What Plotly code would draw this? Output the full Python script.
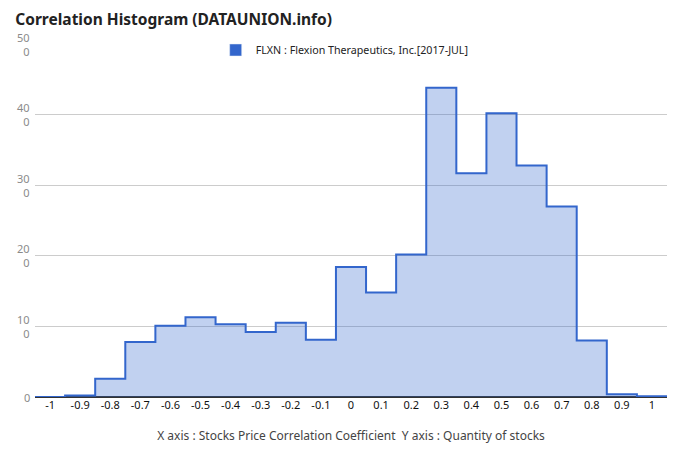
import plotly.graph_objects as go

# bin centres and stock counts
bin_centers = [round(-1 + 0.1 * i, 1) for i in range(21)]
counts = [0, 2, 26, 78, 101, 113, 103, 92, 105, 81,
          184, 148, 202, 438, 317, 402, 328, 270, 80, 4, 1]
bin_width = 0.1

x_tickvals = bin_centers
x_ticktext = ["-1", "-0.9", "-0.8", "-0.7", "-0.6", "-0.5", "-0.4", "-0.3", "-0.2", "-0.1",
              "0", "0.1", "0.2", "0.3", "0.4", "0.5", "0.6", "0.7", "0.8", "0.9", "1"]
# y labels are wrapped in the source chart ("50" over "0" = 500)
y_tickvals = [0, 100, 200, 300, 400, 500]
y_ticktext = ["0", "10<br>0", "20<br>0", "30<br>0", "40<br>0", "50<br>0"]

LINE = "#3366CC"

# step outline: bin edges with the last count repeated to close the final step
edges = [c - bin_width / 2 for c in bin_centers] + [bin_centers[-1] + bin_width / 2]
step_y = counts + [counts[-1]]

fig = go.Figure()
fig.add_trace(go.Scatter(
    x=edges,
    y=step_y,
    mode="lines",
    line=dict(color=LINE, width=2, shape="hv"),
    fill="tozeroy",
    fillcolor="rgba(51,102,204,0.3)",
    showlegend=False,
    hoverinfo="skip",
))
# legend entry only (solid square swatch)
fig.add_trace(go.Bar(
    x=[None], y=[None],
    name="FLXN : Flexion Therapeutics, Inc.[2017-JUL]",
    marker_color=LINE,
))

# wrapped y tick labels, centred on each gridline
for v, label in zip(y_tickvals, y_ticktext):
    fig.add_annotation(x=0, xref="paper", y=v, yref="y", text=label,
                       xanchor="right", yanchor="middle", xshift=-4,
                       align="right", borderpad=0,
                       showarrow=False, font=dict(size=11, color="#8a8a8a"))

# page body has an 8px margin, so the figure is sized/offset to fit inside it
fig.update_layout(
    width=664,
    height=446,
    paper_bgcolor="white",
    plot_bgcolor="white",
    font=dict(family="Noto Sans, Arial, sans-serif", color="#222"),
    margin=dict(l=27, r=5, t=36, b=57),
    title=dict(
        text="<b>Correlation Histogram (DATAUNION.info)</b>",
        x=0.011, xanchor="left", y=0.974, yanchor="middle",
        font=dict(size=15.5, color="#222"),
    ),
    legend=dict(
        orientation="h",
        x=0.49, xanchor="center",
        y=0.983, yanchor="middle",
        bgcolor="rgba(0,0,0,0)",
        font=dict(size=10.7, color="#222"),
        itemwidth=30,
    ),
    xaxis=dict(
        range=[-1.05, 1.05],
        tickvals=x_tickvals,
        ticktext=x_ticktext,
        tickfont=dict(size=11, color="#111"),
        showgrid=False,
        zeroline=False,
        showline=False,
        ticks="",
        title=dict(
            text="X axis : Stocks Price Correlation Coefficient  Y axis : Quantity of stocks",
            font=dict(size=12, color="#444"),
            standoff=20,
        ),
    ),
    yaxis=dict(
        range=[0, 500],
        tickvals=y_tickvals,
        showticklabels=False,
        gridcolor="#cccccc",
        gridwidth=1,
        zeroline=True,
        zerolinecolor="#333333",
        zerolinewidth=1.5,
        ticks="",
    ),
)

fig.write_html("out.html")
